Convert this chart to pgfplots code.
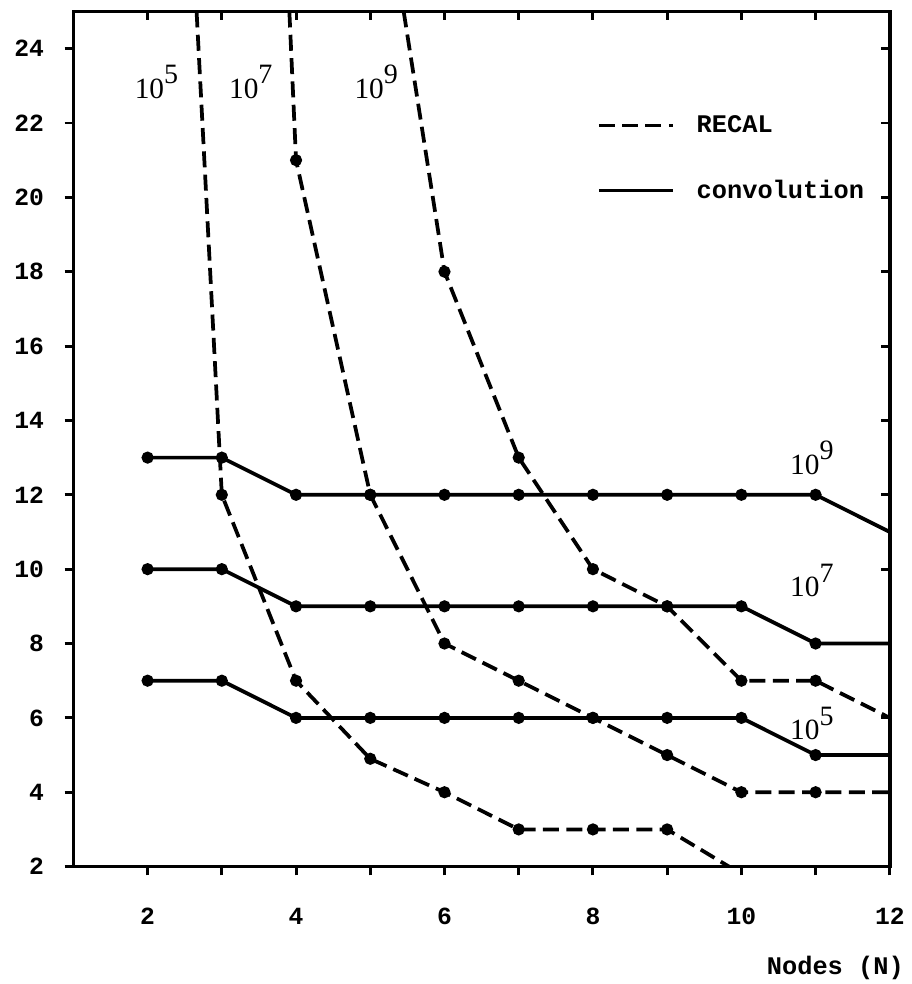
\documentclass[border=0pt]{standalone}
\usepackage{pgfplots}
\pgfplotsset{compat=1.18}
\usepackage{fontspec}
\newfontfamily\mono{Liberation Mono}
\newfontfamily\serif{Liberation Serif}
\newcommand{\pw}[1]{{\serif\fontsize{22}{22}\selectfont 10\raisebox{0.5em}{\fontsize{21}{21}\selectfont #1}}}

\pgfplotsset{
  frame/.style={
    scale only axis, width=612pt, height=641pt,
    xmin=1, xmax=12, ymin=2, ymax=25,
    axis line style={line width=2.6pt},
    major tick style={line width=2.2pt, black},
    major tick length=6.5pt,
  },
  recal/.style={black, line width=2.8pt, dash pattern=on 12pt off 5.5pt, mark=*, mark size=3.1pt, mark options={solid}},
  conv/.style={black, line width=2.8pt, mark=*, mark size=3.1pt},
}

\begin{document}
\begin{tikzpicture}
\useasboundingbox (-55pt,-88pt) rectangle (628pt,649.6pt);

% top and right ticks point inward, no labels
\begin{axis}[frame, at={(0,0)}, anchor=south west,
  tick align=inside, xtick pos=upper, ytick pos=right,
  xtick={2,...,11}, ytick={2,4,...,24},
  xticklabels={}, yticklabels={}]
\end{axis}

\begin{axis}[frame, at={(0,0)}, anchor=south west,
  tick align=outside, xtick pos=lower, ytick pos=left,
  xtick={2,...,12}, ytick={2,4,...,24},
  xticklabels={2,,4,,6,,8,,10,,12},
  /pgf/number format/assume math mode=true,
  ticklabel style={font=\mono\bfseries\fontsize{18.5}{18.5}\selectfont},
  xticklabel style={yshift=-21pt},
  yticklabel style={xshift=-12pt},
  xlabel={Nodes (N)},
  xlabel style={font=\mono\bfseries\fontsize{19}{19}\selectfont, at={(rel axis cs:1,0)}, anchor=east, xshift=14pt, yshift=-76pt},
  clip=true,
  legend style={draw=none, fill=none, at={(axis cs:8.05,21.05)}, anchor=west,
    font=\mono\bfseries\fontsize{19}{19}\selectfont, row sep=30pt,
    cells={anchor=west}, inner sep=0pt},
  legend image code/.code={\draw[#1, mark=none] (0pt,0pt) -- (56pt,0pt); \path (70pt,0pt);},
]

% convolution
\addplot[conv, mark indices={1,2,3,4,5,6,7,8,9,10}, forget plot] coordinates {
  (2,13) (3,13) (4,12) (5,12) (6,12) (7,12) (8,12) (9,12) (10,12) (11,12) (12,11)};
\addplot[conv, mark indices={1,2,3,4,5,6,7,8,9,10}, forget plot] coordinates {
  (2,10) (3,10) (4,9) (5,9) (6,9) (7,9) (8,9) (9,9) (10,9) (11,8) (12,8)};
\addplot[conv, mark indices={1,2,3,4,5,6,7,8,9,10}, forget plot] coordinates {
  (2,7) (3,7) (4,6) (5,6) (6,6) (7,6) (8,6) (9,6) (10,6) (11,5) (12,5)};

% RECAL
\addplot[recal, mark indices={2,3,4,5,6,7,8}, forget plot] coordinates {
  (2.66,25) (3,12) (4,7) (5,4.9) (6,4) (7,3) (8,3) (9,3) (10,1.8)};
\addplot[recal, mark indices={2,3,4,5,6,7,8,9}, forget plot] coordinates {
  (3.91,25) (4,21) (5,12) (6,8) (7,7) (8,6) (9,5) (10,4) (11,4) (12,4)};
\addplot[recal, mark indices={2,3,4,5,6,7}, forget plot] coordinates {
  (5.45,25) (6,18) (7,13) (8,10) (9,9) (10,7) (11,7) (12,6)};

\addlegendimage{black, line width=2.8pt, dash pattern=on 12pt off 5.5pt}
\addlegendentry{RECAL}
\addlegendimage{black, line width=2.8pt}
\addlegendentry{convolution}

\node at (axis cs:2.12,23.1) {\pw{5}};
\node at (axis cs:3.39,23.1) {\pw{7}};
\node at (axis cs:5.08,23.1) {\pw{9}};
\node at (axis cs:10.95,13.0) {\pw{9}};
\node at (axis cs:10.95,9.7) {\pw{7}};
\node at (axis cs:10.95,5.85) {\pw{5}};
\end{axis}
\end{tikzpicture}
\end{document}
